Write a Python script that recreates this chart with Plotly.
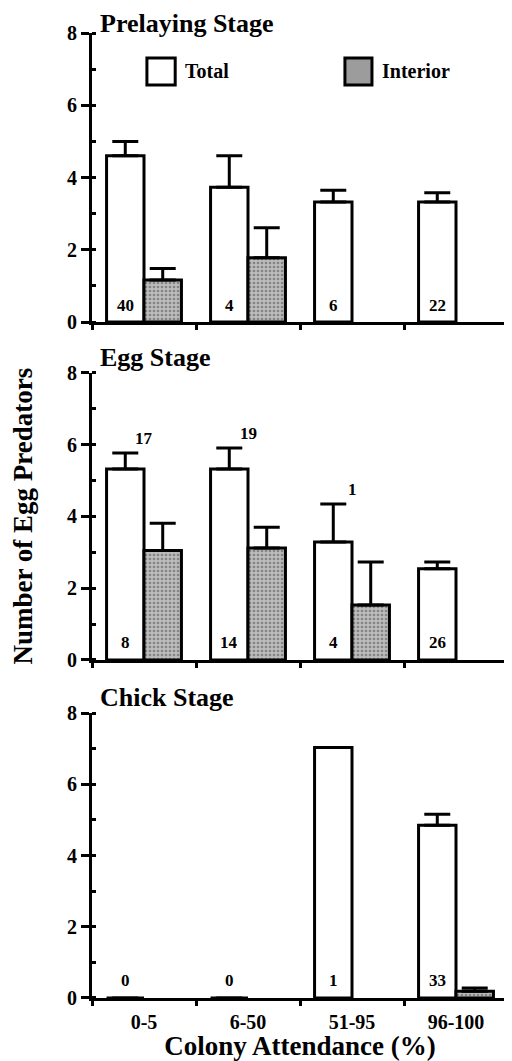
import plotly.graph_objects as go

# ---------------- data ----------------
categories = ["0-5", "6-50", "51-95", "96-100"]
x_pos = [0, 1, 2, 3]
stage_titles = ["Prelaying Stage", "Egg Stage", "Chick Stage"]

pre_total = [4.6, 3.73, 3.32, 3.32]
pre_total_err = [0.40, 0.87, 0.33, 0.26]
pre_int = [1.16, 1.78, None, None]
pre_int_err = [0.32, 0.83, None, None]
pre_n_total = ["40", "4", "6", "22"]
pre_n_int = ["", "", "", ""]

egg_total = [5.32, 5.32, 3.29, 2.54]
egg_total_err = [0.45, 0.59, 1.06, 0.19]
egg_int = [3.05, 3.12, 1.53, None]
egg_int_err = [0.76, 0.58, 1.20, None]
egg_n_total = ["8", "14", "4", "26"]
egg_n_int = ["17", "19", "1", ""]

chick_total = [0, 0, 7.03, 4.85]
chick_total_err = [None, None, None, 0.31]
chick_int = [None, None, None, 0.19]
chick_int_err = [None, None, None, 0.09]
chick_n_total = ["0", "0", "1", "33"]
chick_n_int = ["", "", "", ""]

y_ticks = [0, 2, 4, 6, 8]
legend_labels = ["Total", "Interior"]
x_title = "Colony Attendance (%)"
y_title = "Number of Egg Predators"

# ---------------- style ----------------
FONT = "Liberation Serif"
BARGAP = 0.28
INT_FILL = "#a8a8a8"
panels = [
    (pre_total, pre_total_err, pre_int, pre_int_err, pre_n_total, pre_n_int),
    (egg_total, egg_total_err, egg_int, egg_int_err, egg_n_total, egg_n_int),
    (chick_total, chick_total_err, chick_int, chick_int_err, chick_n_total, chick_n_int),
]
domains = [[0.7005, 1.0], [0.3503, 0.6477], [0.0, 0.2953]]
title_shift = [-7, -1, -1]
total_offset = -(1 - BARGAP) / 4  # centre of the first bar of each pair

fig = go.Figure()
annotations = []
shapes = []

for i, (tot, tot_e, intr, intr_e, n_tot, n_int) in enumerate(panels):
    xa = "x" if i == 0 else f"x{i+1}"
    ya = "y" if i == 0 else f"y{i+1}"
    fig.add_trace(go.Bar(
        x=x_pos, y=tot, xaxis=xa, yaxis=ya, name=legend_labels[0], offsetgroup="t",
        marker=dict(color="white", line=dict(color="black", width=3)),
        error_y=dict(type="data", array=tot_e, symmetric=False,
                     arrayminus=[0] * 4, color="black", thickness=3, width=13),
        showlegend=False,
    ))
    fig.add_trace(go.Bar(
        x=x_pos, y=intr, xaxis=xa, yaxis=ya, name=legend_labels[1], offsetgroup="i",
        marker=dict(color=INT_FILL, line=dict(color="black", width=3),
                    pattern=dict(shape=".", fgcolor="#4a4a4a", bgcolor="#bcbcbc",
                                 size=4, solidity=0.35)),
        error_y=dict(type="data", array=intr_e, symmetric=False,
                     arrayminus=[0] * 4, color="black", thickness=3, width=13),
        showlegend=False,
    ))
    # sample sizes at the foot of the Total bars
    for k, lab in enumerate(n_tot):
        annotations.append(dict(
            x=x_pos[k] + total_offset, y=0, xref=xa, yref=ya, text=lab, showarrow=False,
            yanchor="middle", xanchor="center", yshift=17,
            font=dict(family=FONT, size=17, color="black", weight="bold"),
        ))
    # sample sizes above the pairs
    for k, lab in enumerate(n_int):
        if lab:
            tops = [
                (tot[k] or 0) + (tot_e[k] or 0),
                (intr[k] or 0) + (intr_e[k] or 0),
            ]
            annotations.append(dict(
                x=x_pos[k], y=max(tops), xref=xa, yref=ya, text=lab, showarrow=False,
                yanchor="bottom", xanchor="center", yshift=3,
                font=dict(family=FONT, size=17, color="black", weight="bold"),
            ))
    # stage title
    annotations.append(dict(
        x=0.015, y=1.0, xref=f"{xa} domain", yref=f"{ya} domain", text=stage_titles[i],
        showarrow=False, xanchor="left", yanchor="bottom", yshift=title_shift[i],
        font=dict(family=FONT, size=26, color="black", weight="bold"),
    ))

    axis_common = dict(range=[-0.5, 3.5], showline=True, linewidth=3, linecolor="black",
                       showgrid=False, zeroline=False, tickvals=x_pos,
                       ticktext=categories if i == 2 else [""] * 4,
                       ticks="", ticklabelstandoff=4,
                       tickfont=dict(family=FONT, size=20, color="black", weight="bold"),
                       minor=dict(tick0=0.5, dtick=1, ticks="outside", ticklen=5,
                                  tickwidth=3, tickcolor="black"),
                       anchor=ya, domain=[0, 1], fixedrange=True)
    if i == 2:
        axis_common["title"] = dict(text=x_title, standoff=2,
                                    font=dict(family=FONT, size=27, color="black", weight="bold"))
    yaxis_common = dict(range=[0, 8], domain=domains[i], anchor=xa, showline=True,
                        linewidth=3, linecolor="black", showgrid=False, zeroline=False,
                        tickvals=y_ticks, ticks="outside", ticklen=8, tickwidth=3,
                        tickcolor="black",
                        tickfont=dict(family=FONT, size=20, color="black", weight="bold"),
                        minor=dict(dtick=1, ticks="inside", ticklen=4, tickwidth=3,
                                   tickcolor="black"),
                        fixedrange=True)
    key_x = "xaxis" if i == 0 else f"xaxis{i+1}"
    key_y = "yaxis" if i == 0 else f"yaxis{i+1}"
    fig.update_layout({key_x: axis_common, key_y: yaxis_common})

# legend (drawn in panel 1)
leg_boxes = [(0.132, 0.2, "white"), (0.608, 0.673, "#9c9c9c")]
for (x0, x1, fc), lab in zip(leg_boxes, legend_labels):
    shapes.append(dict(type="rect", xref="x domain", yref="y domain",
                       x0=x0, x1=x1, y0=0.82, y1=0.9135, fillcolor=fc,
                       line=dict(color="black", width=3)))
    annotations.append(dict(x=x1 + 0.019, y=0.867, xref="x domain", yref="y domain",
                            text=lab, showarrow=False, xanchor="left", yanchor="middle",
                            font=dict(family=FONT, size=20, color="black", weight="bold")))

annotations.append(dict(x=-0.166, y=0.5, xref="paper", yref="paper", text=y_title,
                        textangle=-90, showarrow=False, xanchor="center", yanchor="middle",
                        font=dict(family=FONT, size=27, color="black", weight="bold")))

# page body adds an 8 px margin, so the figure is 8 px smaller on each offset side
fig.update_layout(
    width=504, height=1053,
    margin=dict(l=84, r=4, t=25, b=63),
    barmode="group", bargap=BARGAP, bargroupgap=0,
    plot_bgcolor="white", paper_bgcolor="white",
    annotations=annotations, shapes=shapes,
    font=dict(family=FONT, color="black"),
    showlegend=False,
)

fig.write_html("out.html")
